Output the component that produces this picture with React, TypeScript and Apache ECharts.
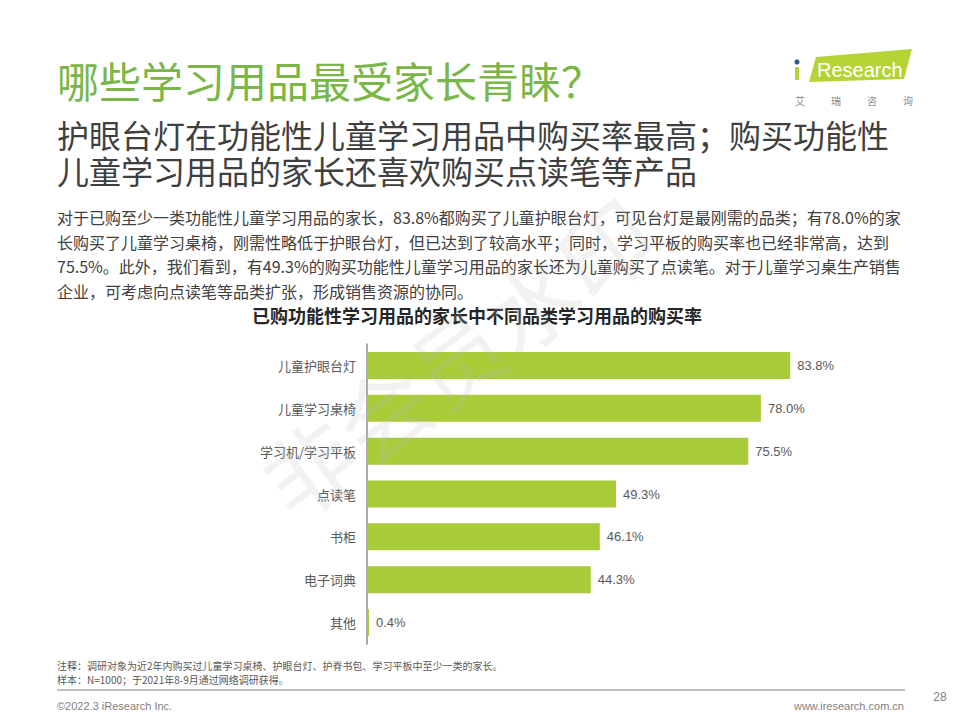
import React, { useEffect, useRef } from "react";
import * as echarts from "echarts";

const categories = ["儿童护眼台灯", "儿童学习桌椅", "学习机/学习平板", "点读笔", "书柜", "电子词典", "其他"];
const purchaseRates = [83.8, 78.0, 75.5, 49.3, 46.1, 44.3, 0.4];

const pageTitle = "哪些学习用品最受家长青睐？";
const subtitleLines = [
  "护眼台灯在功能性儿童学习用品中购买率最高；购买功能性",
  "儿童学习用品的家长还喜欢购买点读笔等产品",
];
const paragraphLines = [
  "对于已购至少一类功能性儿童学习用品的家长，83.8%都购买了儿童护眼台灯，可见台灯是最刚需的品类；有78.0%的家",
  "长购买了儿童学习桌椅，刚需性略低于护眼台灯，但已达到了较高水平；同时，学习平板的购买率也已经非常高，达到",
  "75.5%。此外，我们看到，有49.3%的购买功能性儿童学习用品的家长还为儿童购买了点读笔。对于儿童学习桌生产销售",
  "企业，可考虑向点读笔等品类扩张，形成销售资源的协同。",
];
const chartTitle = "已购功能性学习用品的家长中不同品类学习用品的购买率";
const noteLines = [
  "注释：调研对象为近2年内购买过儿童学习桌椅、护眼台灯、护脊书包、学习平板中至少一类的家长。",
  "样本：N=1000；于2021年8-9月通过网络调研获得。",
];
const copyrightText = "©2022.3 iResearch Inc.";
const siteText = "www.iresearch.com.cn";
const pageNumber = "28";
const logoChars = ["艾", "瑞", "咨", "询"];
const watermarkText = "非会员水印";

const CJK = '"Noto Sans CJK SC", "Noto Sans", sans-serif';
const LATIN = '"Liberation Sans", Arial, "Noto Sans CJK SC", sans-serif';

export default function App() {
  const ref = useRef<HTMLDivElement>(null);

  useEffect(() => {
    if (!ref.current) return;
    const chart = echarts.init(ref.current, null, { renderer: "svg" });

    const graphics: any[] = [];
    graphics.push({
      type: "text",
      x: 57,
      y: 79,
      style: {
        text: pageTitle,
        fill: "#7AB648",
        font: `42px ${CJK}`,
        lineHeight: 44,
        textVerticalAlign: "middle",
      },
    });
    subtitleLines.forEach((t, i) => {
      graphics.push({
        type: "text",
        x: 57,
        y: 137 + i * 36,
        style: {
          text: t,
          fill: "#3F3F3F",
          font: `32px ${LATIN}`,
          lineHeight: 34,
          textVerticalAlign: "middle",
        },
      });
    });
    paragraphLines.forEach((t, i) => {
      graphics.push({
        type: "text",
        x: 57,
        y: 217 + i * 24.5,
        style: {
          text: t,
          fill: "#404040",
          font: `16px ${CJK}`,
          lineHeight: 20,
          textVerticalAlign: "middle",
        },
      });
    });
    graphics.push({
      type: "text",
      x: 477,
      y: 315,
      style: {
        text: chartTitle,
        fill: "#262626",
        font: `bold 18px ${CJK}`,
        lineHeight: 20,
        textAlign: "center",
        textVerticalAlign: "middle",
      },
    });
    noteLines.forEach((t, i) => {
      graphics.push({
        type: "text",
        x: 57,
        y: 665 + i * 14.5,
        style: {
          text: t,
          fill: "#595959",
          font: `10px ${CJK}`,
          lineHeight: 12,
          textVerticalAlign: "middle",
        },
      });
    });
    graphics.push({
      type: "line",
      shape: { x1: 57, y1: 690, x2: 905, y2: 690 },
      style: { stroke: "#BFBFBF", lineWidth: 2 },
    });
    graphics.push({
      type: "text",
      x: 57,
      y: 706,
      style: { text: copyrightText, fill: "#7F7F7F", font: `11px ${LATIN}`, textVerticalAlign: "middle" },
    });
    graphics.push({
      type: "text",
      x: 904,
      y: 706,
      style: {
        text: siteText,
        fill: "#7F7F7F",
        font: `11px ${LATIN}`,
        textAlign: "right",
        textVerticalAlign: "middle",
      },
    });
    graphics.push({
      type: "text",
      x: 940,
      y: 697,
      style: {
        text: pageNumber,
        fill: "#7F7F7F",
        font: `12px ${LATIN}`,
        textAlign: "center",
        textVerticalAlign: "middle",
      },
    });
    // logo
    graphics.push({
      type: "polygon",
      shape: { points: [[816, 57], [912, 49], [904, 79], [809, 82]] },
      style: { fill: "#B5D334" },
    });
    graphics.push({
      type: "rect",
      shape: { x: 795, y: 67, width: 4, height: 13 },
      style: { fill: "#B5D334" },
    });
    graphics.push({
      type: "circle",
      shape: { cx: 797, cy: 62, r: 2.6 },
      style: { fill: "#2E5D8C" },
    });
    graphics.push({
      type: "text",
      x: 817,
      y: 70,
      style: {
        text: "Research",
        fill: "#FFFFFF",
        font: `20px ${LATIN}`,
        lineHeight: 22,
        textVerticalAlign: "middle",
      },
    });
    logoChars.forEach((c, i) => {
      graphics.push({
        type: "text",
        x: 800 + i * 36,
        y: 100,
        style: {
          text: c,
          fill: "#8C8C8C",
          font: `10px ${CJK}`,
          textAlign: "center",
          textVerticalAlign: "middle",
        },
      });
    });
    // watermark
    graphics.push({
      type: "text",
      x: 455,
      y: 355,
      rotation: 0.64,
      z: 100,
      style: {
        text: watermarkText,
        fill: "rgba(190,190,190,0.2)",
        font: `92px ${CJK}`,
        textAlign: "center",
        textVerticalAlign: "middle",
      },
    });

    chart.setOption({
      animation: false,
      backgroundColor: "#FFFFFF",
      grid: { left: 367, top: 344, width: 505, height: 300, containLabel: false },
      xAxis: { type: "value", min: 0, max: 100, show: false },
      yAxis: {
        type: "category",
        data: categories,
        inverse: true,
        axisLine: { show: true, lineStyle: { color: "#8C8C8C", width: 1.5 } },
        axisTick: { show: false },
        splitLine: { show: false },
        axisLabel: { margin: 11, color: "#595959", fontSize: 13, fontFamily: CJK },
      },
      series: [
        {
          type: "bar",
          data: purchaseRates,
          barWidth: 27,
          itemStyle: { color: "#A9CB37" },
          label: {
            show: true,
            position: "right",
            distance: 7,
            color: "#595959",
            fontSize: 13,
            fontFamily: LATIN,
            formatter: (p: any) => `${Number(p.value).toFixed(1)}%`,
          },
        },
      ],
      graphic: graphics,
    });

    return () => chart.dispose();
  }, []);

  return (
    <div
      ref={ref}
      style={{ position: "absolute", left: 0, top: 0, width: 960, height: 720 }}
    />
  );
}
